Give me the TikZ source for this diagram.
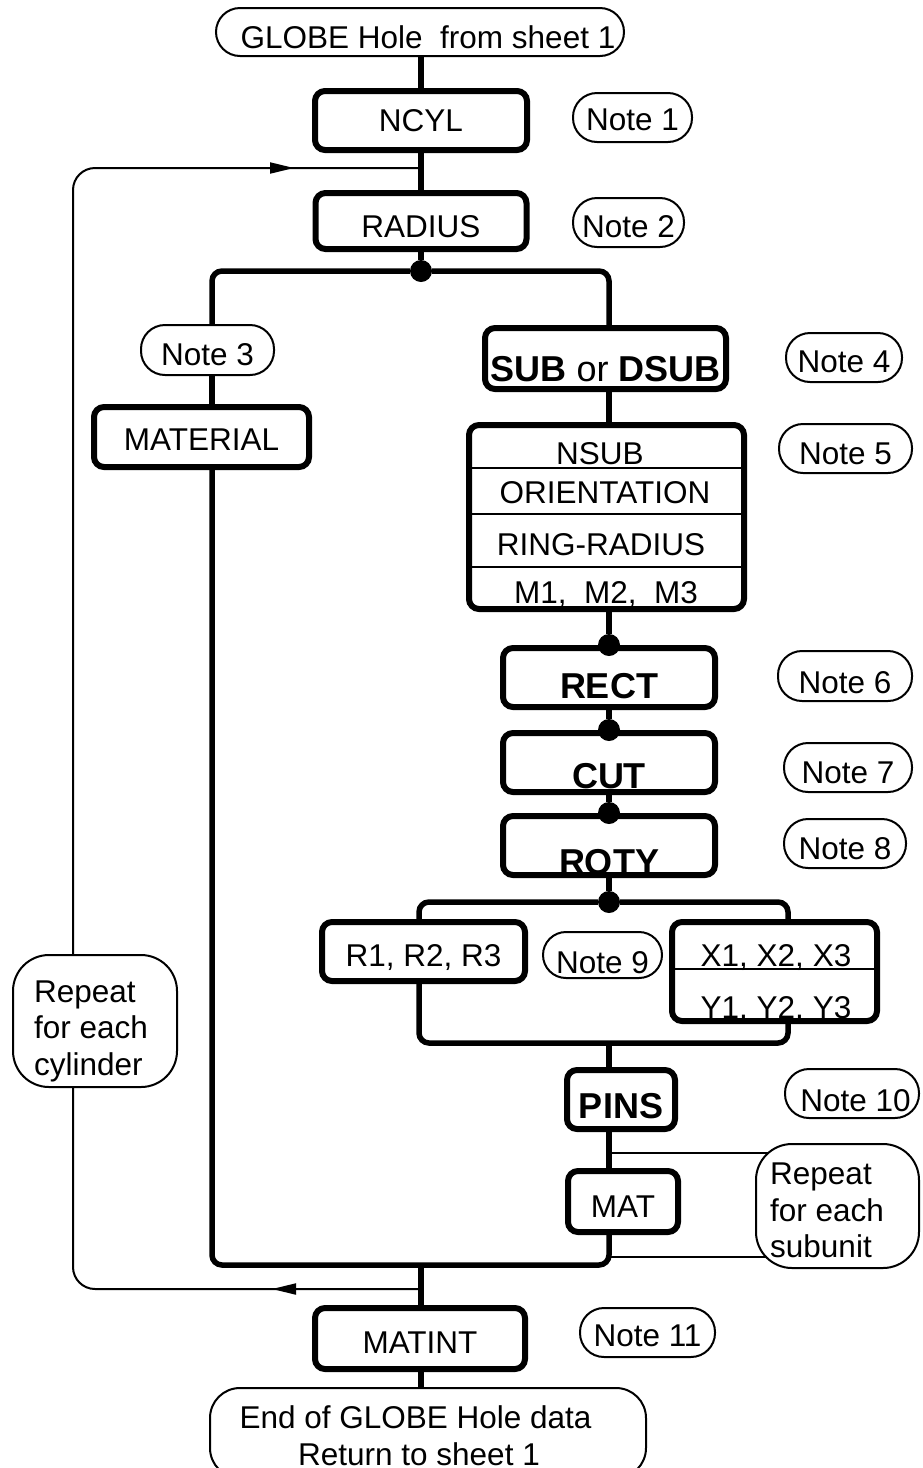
\documentclass[tikz,border=0pt]{standalone}
\usepackage{fontspec}
\setmainfont{Liberation Sans}
\usetikzlibrary{arrows.meta,backgrounds}
\newcommand\regf{\fontsize{31.5}{37}\selectfont}
\newcommand\bldf{\fontsize{36}{42}\selectfont\bfseries}
\begin{document}
\begin{tikzpicture}[x=1pt,y=-1pt,
  tbox/.style={draw, line width=6pt, rounded corners=10pt, fill=white, inner sep=0pt, text height=22pt, text depth=0pt, font=\regf},
  nbox/.style={draw, line width=2pt, rounded corners=24pt, fill=white, inner sep=0pt, text height=22pt, text depth=0pt, font=\regf},
  rbox/.style={draw, line width=2pt, rounded corners=36pt, fill=white, inner sep=0pt},
  txt/.style={inner sep=0pt, text height=22pt, text depth=0pt, font=\regf},
  jdot/.style={circle, fill=black, inner sep=0pt, minimum size=22pt},
  conn/.style={line width=5.5pt},
  tline/.style={line width=2pt},
  divl/.style={line width=2.5pt},
  tip/.style={-{Triangle[length=24pt,width=11pt]}},
  sz/.style 2 args={minimum width=#1pt, minimum height=#2pt}
]
\useasboundingbox (0,0) rectangle (923,1468);
\coordinate (colM) at (421,0);
\coordinate (colL) at (212,0);
\coordinate (colR) at (609,0);
\coordinate (colR1) at (419,0);
\coordinate (colX) at (788,0);

% boxes
\node[nbox, sz={408}{48}, text height=32pt] (globe) at (420,32) {\hspace{16pt}GLOBE Hole\ \ from sheet 1};
\node[tbox, sz={212}{59}] (ncyl) at (421,120.5) {NCYL};
\node[nbox, sz={119}{49}, text height=26pt] (n1) at (632.5,117.5) {Note 1};
\node[tbox, sz={211}{56}, text height=32pt] (radius) at (421,221) {RADIUS};
\node[nbox, sz={111}{49}, text height=29pt] (n2) at (628.5,222.5) {Note 2};
\node[nbox, sz={133}{50}, text height=31pt] (n3) at (207.5,350) {Note 3\hspace{9pt}};
\node[tbox, sz={215}{60}, text height=26pt] (material) at (201.5,437) {MATERIAL};
\node[tbox, sz={241}{61}, text height=45pt, font=\bldf] (sub) at (605.5,358.5) {SUB {\mdseries or} DSUB};
\node[nbox, sz={116}{49}, text height=30pt] (n4) at (844,357.5) {Note 4};
\node[tbox, sz={275}{184}] (nsub) at (606.5,517) {};
\node[nbox, sz={133}{49}, text height=32pt] (n5) at (845.5,448.5) {Note 5};
\node[tbox, sz={212}{59}, text height=42pt, font=\bldf] (rect) at (609,677.5) {RECT};
\node[nbox, sz={134}{50}, text height=35pt] (n6) at (845,676) {Note 6\hspace{12pt}};
\node[tbox, sz={212}{59}, text height=51pt, font=\bldf] (cut) at (609,762.5) {CUT};
\node[nbox, sz={128}{49}, text height=32pt] (n7) at (848,767.5) {Note 7};
\node[tbox, sz={212}{59}, text height=57pt, font=\bldf] (roty) at (609,845.5) {ROTY};
\node[nbox, sz={122}{49}, text height=31pt] (n8) at (845,843.5) {Note 8};
\node[tbox, sz={203}{59}, text height=30pt] (r1) at (423.5,951.5) {R1, R2, R3};
\node[nbox, sz={119}{46}, rounded corners=23pt, text height=37pt] (n9) at (602.5,955) {Note 9\hspace{12pt}};
\node[tbox, sz={205}{99}] (xy) at (774.5,971.5) {};
\node[tbox, sz={108}{59}, text height=37pt, font=\bldf] (pins) at (621,1099.5) {PINS\hspace{12pt}};
\node[nbox, sz={134}{49}, text height=36pt] (n10) at (852,1093.5) {\hspace{7pt}Note 10};
\node[tbox, sz={110}{61}, text height=31pt] (mat) at (623,1201.5) {MAT\hspace{6pt}};
\node[rbox, sz={163}{124}] (reps) at (837.5,1206) {};
\node[tbox, sz={210}{61}, text height=30pt] (matint) at (420,1338.5) {MATINT};
\node[nbox, sz={135}{49}, text height=27pt] (n11) at (647.5,1332.5) {Note 11};
\node[rbox, sz={436}{90}, rounded corners=30pt] (endb) at (428,1433) {};
\node[rbox, sz={164}{132}] (repc) at (95,1021) {};

% compartments
\coordinate (dv1) at (0,468);
\coordinate (dv2) at (0,514);
\coordinate (dv3) at (0,567);
\coordinate (dv4) at (0,969);
\draw[divl] (nsub.west |- dv1) -- (nsub.east |- dv1);
\draw[divl] (nsub.west |- dv2) -- (nsub.east |- dv2);
\draw[divl] (nsub.west |- dv3) -- (nsub.east |- dv3);
\draw[divl] (xy.west |- dv4) -- (xy.east |- dv4);
\node[txt] (tnsub) at (600,453) {NSUB};
\node[txt] (torient) at (605,492) {ORIENTATION};
\node[txt] (tring) at (601,544) {RING-RADIUS};
\node[txt] (tm) at (606,592) {M1,\ \ M2,\ \ M3};
\node[txt] (tx) at (776,955.5) {X1, X2, X3};
\node[txt] (ty) at (776,1007.5) {Y1, Y2, Y3};

% multi-line texts
\node[txt, anchor=base west] (rs1) at (770,1184) {Repeat};
\node[txt, anchor=base west] (rs2) at (770,1221) {for each};
\node[txt, anchor=base west] (rs3) at (770,1257) {subunit};
\node[txt, anchor=base west] (rc1) at (34,1002) {Repeat};
\node[txt, anchor=base west] (rc2) at (34,1038) {for each};
\node[txt, anchor=base west] (rc3) at (34,1075) {cylinder};
\node[txt, anchor=base] (e1) at (415.5,1428) {End of GLOBE Hole data};
\node[txt, anchor=base] (e2) at (419,1465) {Return to sheet 1};

% junction dots
\node[jdot] (j1) at (421,271) {};
\node[jdot] (j3) at (609,902) {};
\node[jdot] (dr) at (rect.north) {};
\node[jdot] (dc) at (cut.north) {};
\node[jdot] (dy) at (roty.north) {};

\coordinate (j4) at (609,1043);
\coordinate (bB) at (421,1265);
\coordinate (t1) at (609,1153);
\coordinate (t2) at (609,1257);
\coordinate (lb) at (421,1289);
\coordinate (lbl) at (73,1289);
\coordinate (ltl) at (73,168);
\coordinate (lt) at (421,168);
\coordinate (ab) at (272,1289);
\coordinate (as) at (130,168);
\coordinate (at) at (294,168);

\begin{scope}[on background layer]
\fill[white] (0,0) rectangle (923,1468);
\draw[conn] (globe.south -| colM) -- (ncyl.north -| colM);
\draw[conn] (ncyl.south -| colM) -- (radius.north -| colM);
\draw[conn] (radius.south -| colM) -- (j1);
\draw[conn, rounded corners=10pt] (n3.north -| colL) |- (j1) -| (sub.north -| colR);
\draw[conn] (n3.south -| colL) -- (material.north -| colL);
\draw[conn, rounded corners=10pt] (material.south -| colL) |- (bB) -| (mat.south -| colR);
\draw[conn] (bB) -- (matint.north -| colM);
\draw[conn] (matint.south -| colM) -- (endb.north -| colM);
\draw[conn] (sub.south -| colR) -- (nsub.north -| colR);
\draw[conn] (nsub.south -| colR) -- (dr);
\draw[conn] (rect.south) -- (dc);
\draw[conn] (cut.south) -- (dy);
\draw[conn] (roty.south) -- (j3);
\draw[conn, rounded corners=10pt] (r1.north -| colR1) |- (j3) -| (xy.north -| colX);
\draw[conn, rounded corners=10pt] (r1.south -| colR1) |- (j4) -| (xy.south -| colX);
\draw[conn] (j4) -- (pins.north -| colR);
\draw[conn] (pins.south -| colR) -- (mat.north -| colR);
\draw[tline] (t1) -- (t1 -| reps.center);
\draw[tline] (t2) -- (t2 -| reps.center);
\draw[tline, rounded corners=22pt] (lb) -- (lbl) -- (ltl) -- (lt);
\draw[tline, tip] (lb) -- (ab);
\draw[tline, tip] (as) -- (at);
\end{scope}
\end{tikzpicture}
\end{document}
